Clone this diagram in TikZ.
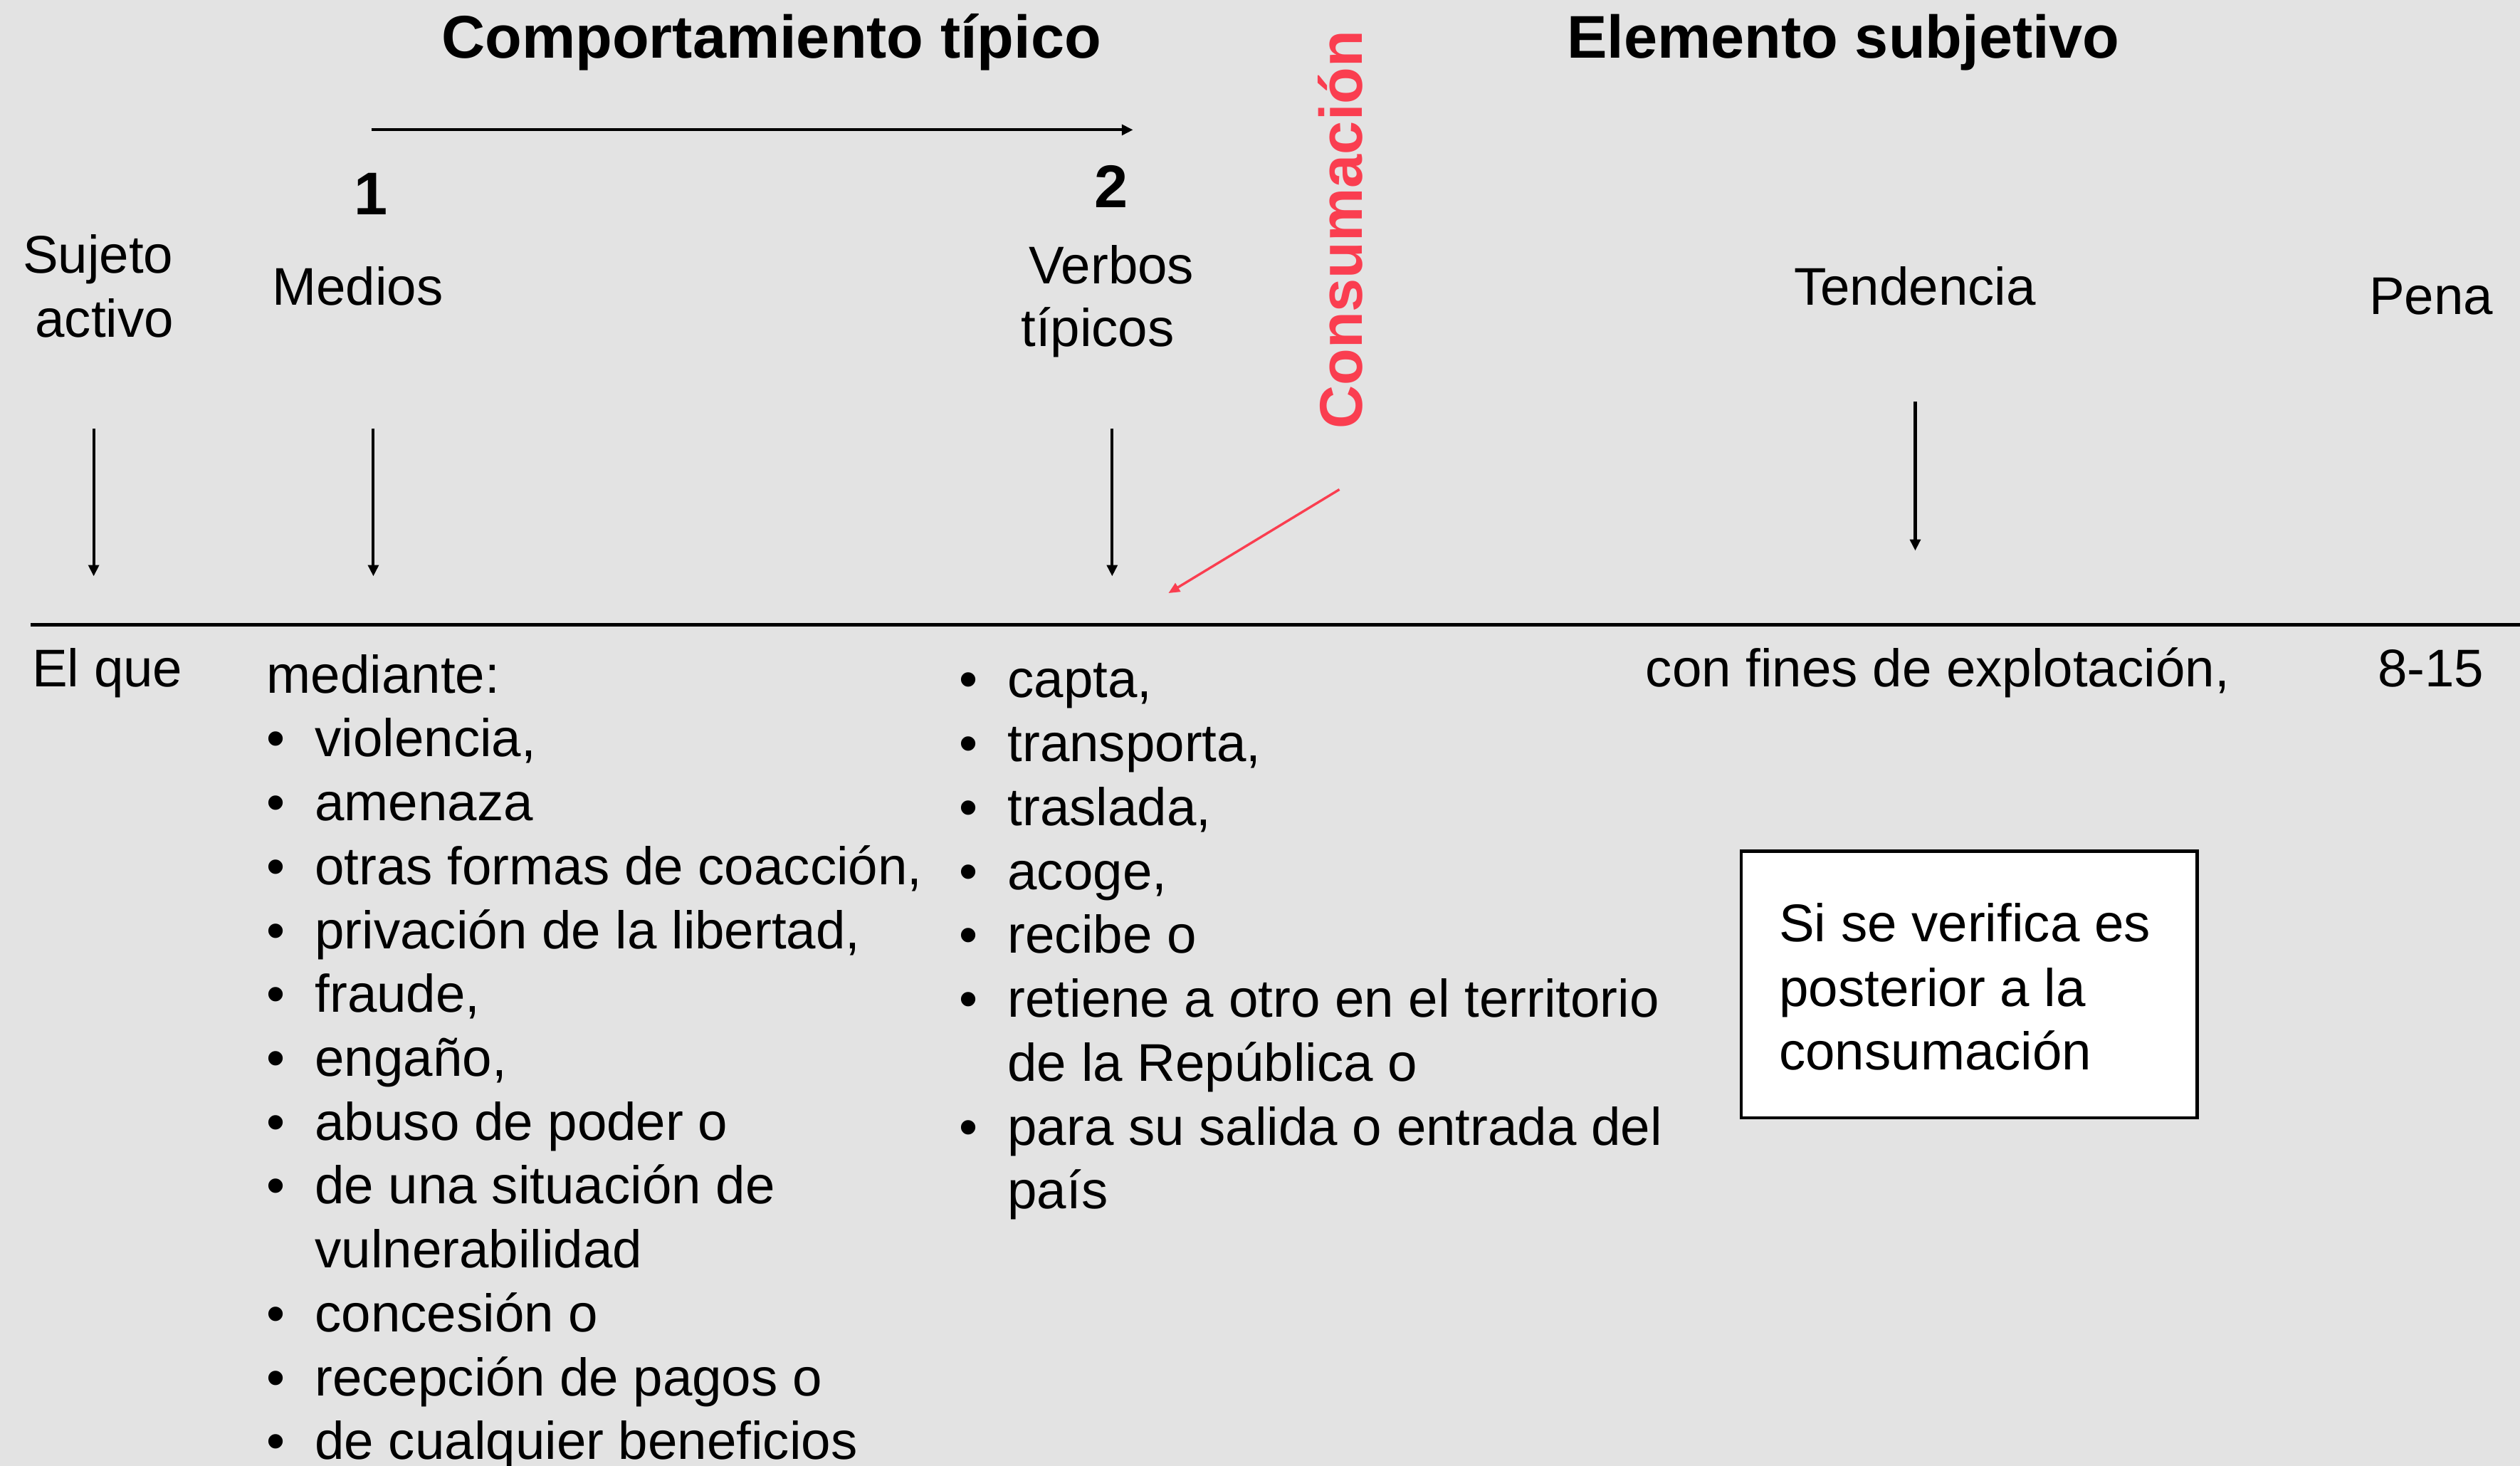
\documentclass[tikz,border=0pt]{standalone}
\usepackage{fontspec}
\setmainfont{Liberation Sans}
\usetikzlibrary{arrows.meta}
\definecolor{bgc}{HTML}{E3E3E3}
\definecolor{consred}{HTML}{FA3E50}
\begin{document}
\begin{tikzpicture}[x=1pt,y=-1pt,
  txt/.style={inner sep=0pt,outer sep=0pt,font=\fontsize{33}{39.75}\selectfont},
  ttl/.style={inner sep=0pt,outer sep=0pt,font=\fontsize{37.5}{45}\selectfont\bfseries},
  lw/.style={txt,anchor=base west},
  lc/.style={txt,anchor=base},
  arr/.style={line width=1.8pt,-{Triangle[length=7pt,width=6.5pt]}},
  redarr/.style={consred,line width=1.5pt,-{Triangle[length=7pt,width=6pt]}},
  notebox/.style={draw=black,fill=white,line width=2pt}]
\useasboundingbox (0,0) rectangle (1568,912);
\fill[bgc] (0,0) rectangle (1568,912);

% titles
\node[ttl,anchor=base] (t1) at (480,36.2) {Comportamiento típico};
\node[ttl,anchor=base] (t2) at (1147,36.2) {Elemento subjetivo};
\node[ttl,anchor=base,text=consred,rotate=90] (cons) at (847.4,143) {Consumación};

% top arrow and numbers
\coordinate (ta1) at (231,80.8);
\coordinate (ta2) at (705,80.8);
\draw[arr] (ta1) -- (ta2);
\node[ttl,anchor=base] (n1) at (231,133.6) {1};
\node[ttl,anchor=base] (n2) at (691.5,129) {2};

% column heads
\node[lc] (h1a) at (61,170) {Sujeto};
\node[lc] (h1b) at (65,209.7) {activo};
\node[lc] (h2) at (222.5,189.8) {Medios};
\node[lc] (h3a) at (691.5,176.5) {Verbos};
\node[lc] (h3b) at (683,215.6) {típicos};
\node[lc] (h4) at (1191.5,189.8) {Tendencia};
\node[lc] (h5) at (1512.7,195.4) {Pena};

% down arrows
\coordinate (d1s) at (58.3,266.5); \coordinate (d1e) at (58.3,358.5);
\coordinate (d2s) at (232.3,266.5); \coordinate (d2e) at (232.3,358.5);
\coordinate (d3s) at (692,266.5); \coordinate (d3e) at (692,358.5);
\coordinate (d4s) at (1191.7,249.8); \coordinate (d4e) at (1191.7,342.6);
\draw[arr] (d1s) -- (d1e);
\draw[arr] (d2s) -- (d2e);
\draw[arr] (d3s) -- (d3e);
\draw[arr] (d4s) -- (d4e);

% red arrow
\coordinate (rs) at (833.4,304.5);
\coordinate (re) at (727,369);
\draw[redarr] (rs) -- (re);

% separator
\coordinate (sl) at (19,388.5);
\coordinate (sr) at (1568,388.5);
\draw[line width=2.2pt] (sl) -- (sr);

% first row
\node[lw] (elque) at (20,427) {El que};
\node[lw] (fines) at (1024,427) {con fines de explotación,};
\node[lc] (pena) at (1512.5,427) {8-15};

% medios list
\node[lw] (m0) at (166,431) {mediante:};
\node[lw] (mb1) at (166,470.75) {•};  \node[lw] (m1) at (196,470.75) {violencia,};
\node[lw] (mb2) at (166,510.5) {•};   \node[lw] (m2) at (196,510.5) {amenaza};
\node[lw] (mb3) at (166,550.25) {•};  \node[lw] (m3) at (196,550.25) {otras formas de coacción,};
\node[lw] (mb4) at (166,590) {•};     \node[lw] (m4) at (196,590) {privación de la libertad,};
\node[lw] (mb5) at (166,629.75) {•};  \node[lw] (m5) at (196,629.75) {fraude,};
\node[lw] (mb6) at (166,669.5) {•};   \node[lw] (m6) at (196,669.5) {engaño,};
\node[lw] (mb7) at (166,709.25) {•};  \node[lw] (m7) at (196,709.25) {abuso de poder o};
\node[lw] (mb8) at (166,749) {•};     \node[lw] (m8) at (196,749) {de una situación de};
\node[lw] (m9) at (196,788.75) {vulnerabilidad};
\node[lw] (mb10) at (166,828.5) {•};  \node[lw] (m10) at (196,828.5) {concesión o};
\node[lw] (mb11) at (166,868.25) {•}; \node[lw] (m11) at (196,868.25) {recepción de pagos o};
\node[lw] (mb12) at (166,908) {•};    \node[lw] (m12) at (196,908) {de cualquier beneficios};

% verbos list
\node[lw] (vb0) at (597,434) {•};     \node[lw] (v0) at (627,434) {capta,};
\node[lw] (vb1) at (597,473.75) {•};  \node[lw] (v1) at (627,473.75) {transporta,};
\node[lw] (vb2) at (597,513.5) {•};   \node[lw] (v2) at (627,513.5) {traslada,};
\node[lw] (vb3) at (597,553.25) {•};  \node[lw] (v3) at (627,553.25) {acoge,};
\node[lw] (vb4) at (597,593) {•};     \node[lw] (v4) at (627,593) {recibe o};
\node[lw] (vb5) at (597,632.75) {•};  \node[lw] (v5) at (627,632.75) {retiene a otro en el territorio};
\node[lw] (v6) at (627,672.5) {de la República o};
\node[lw] (vb7) at (597,712.25) {•};  \node[lw] (v7) at (627,712.25) {para su salida o entrada del};
\node[lw] (v8) at (627,752) {país};

% note box
\coordinate (bx1) at (1083.5,529.5);
\coordinate (bx2) at (1367,695.5);
\draw[notebox] (bx1) rectangle (bx2);
\node[lw] (b1) at (1107,586) {Si se verifica es};
\node[lw] (b2) at (1107,626) {posterior a la};
\node[lw] (b3) at (1107,665.5) {consumación};
\end{tikzpicture}
\end{document}
